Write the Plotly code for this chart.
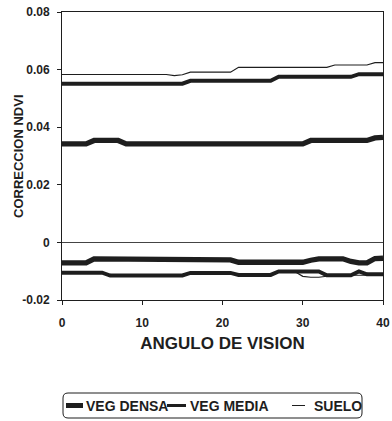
import plotly.graph_objects as go

angles = list(range(0, 41))

densa_upper = ([0.0342] * 4 + [0.0354] * 4 + [0.0342] * 23 + [0.0354] * 8 + [0.0363, 0.0365])
media_upper = ([0.0551] * 16 + [0.0561] * 11 + [0.0575] * 10 + [0.0584] * 4)
suelo_upper = ([0.0583] * 14 + [0.0579, 0.0582] + [0.0591] * 6 + [0.0608] * 12 + [0.0616] * 5 + [0.0624] * 2)

densa_lower = ([-0.0071] * 4 + [-0.0057] * 17 + [-0.0061] + [-0.0069] * 9 + [-0.0062] + [-0.0057] * 4
               + [-0.0066, -0.0071, -0.0071, -0.0056, -0.0055])
media_lower = ([-0.0105] * 6 + [-0.0115] * 10 + [-0.0106] * 6 + [-0.0113] * 5 + [-0.0101] * 6
               + [-0.0114] * 4 + [-0.0101] + [-0.0111] * 3)
suelo_lower = (media_lower[:30] + [-0.0118, -0.0121, -0.0121, -0.0117] + [-0.0114] * 7)

y_tick_vals = [-0.02, 0, 0.02, 0.04, 0.06, 0.08]
y_tick_text = ["-0.02", "0", "0.02", "0.04", "0.06", "0.08"]
x_tick_vals = [0, 10, 20, 30, 40]
x_tick_text = ["0", "10", "20", "30", "40"]

series_names = ["VEG DENSA", "VEG MEDIA", "SUELO"]

INK = "#1e1e1e"
FAM = "Liberation Sans, Arial, sans-serif"
FONT = dict(family=FAM, color=INK, size=12, weight="bold")

W, H = 392, 421
ML, MR, MT, MB = 62, 9, 12, 121
PW, PH = W - ML - MR, H - MT - MB


def px(x):
    return (x - ML) / PW


def py(y):
    return (H - MB - y) / PH


widths = {"VEG DENSA": 5.3, "VEG MEDIA": 4.0, "SUELO": 1.2}
legend_widths = {"VEG DENSA": 5, "VEG MEDIA": 3, "SUELO": 1}

fig = go.Figure()
groups = [
    ("VEG DENSA", densa_upper),
    ("VEG MEDIA", media_upper),
    ("SUELO", suelo_upper),
    ("VEG DENSA", densa_lower),
    ("VEG MEDIA", media_lower),
    ("SUELO", suelo_lower),
]
for name, vals in groups:
    fig.add_trace(go.Scatter(
        x=angles, y=vals, mode="lines", name=name, legendgroup=name, showlegend=False,
        line=dict(color=INK, width=widths[name]),
    ))

# legend box (rounded) drawn in paper coordinates
x0, x1, y0, y1, r = 63, 362, 393, 418, 5
path = (f"M{px(x0 + r)},{py(y0)} L{px(x1 - r)},{py(y0)} Q{px(x1)},{py(y0)} {px(x1)},{py(y0 + r)} "
        f"L{px(x1)},{py(y1 - r)} Q{px(x1)},{py(y1)} {px(x1 - r)},{py(y1)} "
        f"L{px(x0 + r)},{py(y1)} Q{px(x0)},{py(y1)} {px(x0)},{py(y1 - r)} "
        f"L{px(x0)},{py(y0 + r)} Q{px(x0)},{py(y0)} {px(x0 + r)},{py(y0)} Z")
shapes = [dict(type="path", xref="paper", yref="paper", path=path,
               line=dict(color=INK, width=1), fillcolor="rgba(0,0,0,0)")]
annotations = []
legend_items = [("VEG DENSA", 66, 83, 84), ("VEG MEDIA", 167, 186, 188), ("SUELO", 292, 305, 312)]
ly = 405.5
for name, lx0, lx1, tx in legend_items:
    shapes.append(dict(type="line", xref="paper", yref="paper", x0=px(lx0), x1=px(lx1), y0=py(ly), y1=py(ly),
                       line=dict(color=INK, width=legend_widths[name])))
    annotations.append(dict(text=name, xref="paper", yref="paper", x=px(tx), y=py(ly),
                            xanchor="left", yanchor="middle", showarrow=False,
                            font=dict(family=FAM, size=14, color=INK, weight="bold")))

# y-axis title placed as rotated text
annotations.append(dict(text="CORRECCION NDVI", xref="paper", yref="paper", x=px(18), y=py(156),
                        xanchor="center", yanchor="middle", textangle=-90, showarrow=False,
                        font=dict(family=FAM, size=13, color=INK, weight="bold")))

fig.update_layout(
    width=W, height=H,
    margin=dict(l=ML, r=MR, t=MT, b=MB),
    paper_bgcolor="white", plot_bgcolor="white",
    font=FONT,
    showlegend=False,
    shapes=shapes,
    annotations=annotations,
)
fig.update_xaxes(
    range=[0, 40], tickvals=x_tick_vals, ticktext=x_tick_text,
    ticks="outside", ticklen=4, tickcolor=INK, ticklabelstandoff=8,
    showline=True, linecolor=INK, linewidth=1, mirror=True,
    showgrid=False, zeroline=False, automargin=False,
    title=dict(text="ANGULO DE VISION", font=dict(size=17, weight="bold"), standoff=7),
    tickfont=dict(size=12),
)
fig.update_yaxes(
    range=[-0.02, 0.08], tickvals=y_tick_vals, ticktext=y_tick_text,
    ticks="outside", ticklen=4, tickcolor=INK, ticklabelstandoff=5,
    showline=True, linecolor=INK, linewidth=1, mirror=True,
    showgrid=False, zeroline=True, zerolinecolor="#444", zerolinewidth=1, automargin=False,
    tickfont=dict(size=12),
)

fig.write_html("out.html", config={"displayModeBar": False, "staticPlot": True},
               post_script="document.body.style.margin='0';document.body.style.overflow='hidden';")
